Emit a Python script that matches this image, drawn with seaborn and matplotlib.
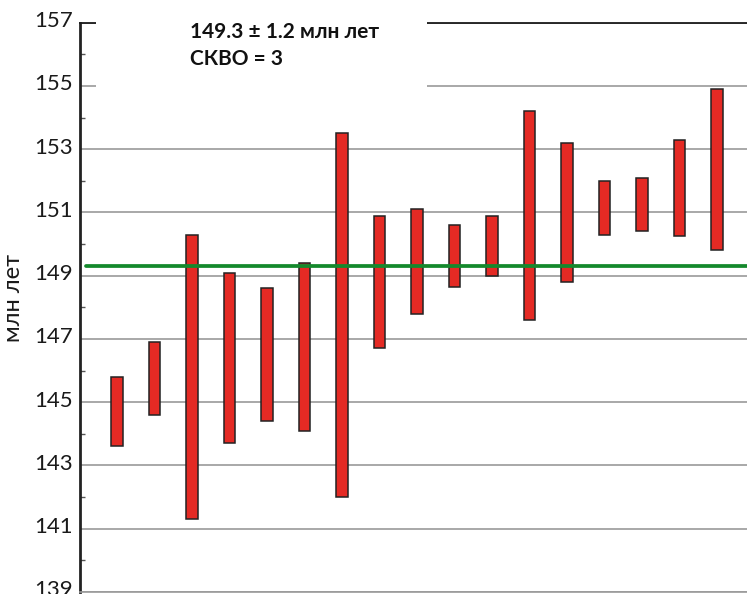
import matplotlib
matplotlib.use("Agg")
import matplotlib.pyplot as plt
from matplotlib.patches import Rectangle
from matplotlib.transforms import ScaledTranslation
import numpy as np
import pandas as pd
import seaborn as sns

# Age intervals for each analysed grain (million years)
samples = [str(i) for i in range(1, 18)]
age_low = [143.6, 144.6, 141.3, 143.7, 144.4, 144.1, 142.0, 146.7, 147.8,
           148.65, 149.0, 147.6, 148.8, 150.3, 150.4, 150.25, 149.8]
age_high = [145.8, 146.9, 150.3, 149.1, 148.6, 149.4, 153.5, 150.9, 151.1,
            150.6, 150.9, 154.2, 153.2, 152.0, 152.1, 153.3, 154.9]
mean_age = 149.3
mean_err = 1.2
mswd = 3
y_ticks = list(range(139, 158, 2))

df = pd.DataFrame({"sample": samples, "low": age_low, "high": age_high})
df["span"] = df["high"] - df["low"]

sns.set_theme(style="white")
plt.rcParams["font.family"] = ["Lato", "DejaVu Sans"]

fig = plt.figure(figsize=(7.47, 5.94), dpi=100)
ax = fig.add_axes([80 / 747, 2 / 594, 667 / 747, 569.4 / 594])

sns.barplot(data=df, x="sample", y="span", bottom=df["low"].to_numpy(),
            order=samples, width=0.31, color="#E42A24", saturation=1,
            edgecolor="#222222", linewidth=1.1, errorbar=None, ax=ax, zorder=4)

ax.axhline(mean_age, xmin=0.009, xmax=1, color="#14892C", linewidth=2.7, zorder=5)

ax.set_xlim(-0.987, 16.8)
ax.set_ylim(139, 157)
ax.set_yticks(y_ticks)
ax.set_yticks(np.arange(139, 158, 1), minor=True)
ax.set_yticklabels([str(t) for t in y_ticks], fontsize=16, color="#1a1a1a")
ax.tick_params(axis="y", which="major", length=0, pad=5)
ax.tick_params(axis="y", which="minor", direction="in", length=3.5,
               width=1, color="#555555", left=True)
ax.set_xticks([])
ax.set_xlabel("")
shift = ScaledTranslation(0, 0.035, fig.dpi_scale_trans)
for lab in ax.get_yticklabels():
    lab.set_transform(lab.get_transform() + shift)

ax.yaxis.grid(True, which="major", color="#9a9a9a", linewidth=1.2, zorder=1)
ax.set_axisbelow(True)

ax.spines["right"].set_visible(False)
ax.spines["left"].set_color("#222222")
ax.spines["left"].set_linewidth(2.0)
ax.spines["bottom"].set_color("#9a9a9a")
ax.spines["bottom"].set_linewidth(1.2)
ax.spines["top"].set_color("#1a1a1a")
ax.spines["top"].set_linewidth(1.3)

ax.set_ylabel("млн лет", fontsize=17, color="#1a1a1a")
ax.yaxis.set_label_coords(-0.084, 0.516)

# white panel behind the summary text
ax.add_patch(Rectangle((-0.56, 154.2), 8.83, 3.5, facecolor="white",
                       edgecolor="none", zorder=6, clip_on=False))
ax.text(0.165, 156.5, f"{mean_age} ± {mean_err} млн лет",
        transform=ax.get_yaxis_transform(), fontsize=15, fontweight="bold",
        color="#111111", zorder=7, va="baseline", ha="left")
ax.text(0.165, 155.66, f"СКВО = {mswd}",
        transform=ax.get_yaxis_transform(), fontsize=15, fontweight="bold",
        color="#111111", zorder=7, va="baseline", ha="left")

fig.savefig("out.png", dpi=100)
